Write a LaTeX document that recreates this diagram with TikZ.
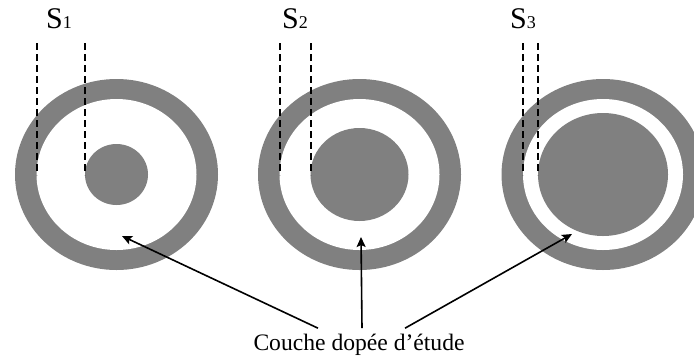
\documentclass[tikz,border=0pt]{standalone}
\usepackage{fontspec}
\setmainfont{Liberation Serif}
\usetikzlibrary{arrows.meta}

\begin{document}
\begin{tikzpicture}[
  x=0.5pt,y=-0.5pt,
  gaine/.style={fill=black!50},
  vide/.style={fill=white},
  coupe/.style={draw=black,dash pattern=on 3.5pt off 2pt,line width=1pt},
  ar/.style={-{Stealth[length=5pt,width=4.5pt,inset=1pt]},line width=0.8pt},
  slbl/.style={inner sep=0pt,anchor=base},
  lbl/.style={font=\fontsize{11.8}{14}\selectfont,inner sep=2.5pt,anchor=base}
]
\useasboundingbox (0,0) rectangle (694,360);

% ---------------- three cross-sections (outer ring, gap, doped core)
\begin{scope}
  \clip (0,0) rectangle (694,360);
  \foreach \n/\cx/\rx/\ry/\lx in {1/116.5/31.5/30.5/59, 2/359.5/49/46.5/295, 3/603/65/61.5/523} {
    \fill[gaine] (\cx,174.5) ellipse [x radius=101.5, y radius=95.5];
    \fill[vide] (\cx,174.5) ellipse [x radius=80, y radius=75.5];
    \fill[gaine] (\cx,174.5) ellipse [x radius=\rx, y radius=\ry];
    % cut lines S_n
    \draw[coupe] (\cx-80,43) -- (\cx-80,175);
    \draw[coupe] (\cx-\rx,43) -- (\cx-\rx,175);
    \node[slbl] (s\n) at (\lx,28) {{\fontsize{15}{17}\selectfont S}{\fontsize{9}{11}\selectfont \n}};
  }
\end{scope}

% ---------------- arrow ends inside the gap
\coordinate (t1) at (122,236);
\coordinate (t2) at (361,237);
\coordinate (t3) at (572,234);

% ---------------- label and arrows
\node[lbl] (couche) at (359,350) {Couche dopée d’étude};
\draw[ar] ([xshift=-20.5pt]couche.north) -- (t1);
\draw[ar] ([xshift=1.5pt]couche.north) -- (t2);
\draw[ar] ([xshift=23pt]couche.north) -- (t3);
\end{tikzpicture}
\end{document}
